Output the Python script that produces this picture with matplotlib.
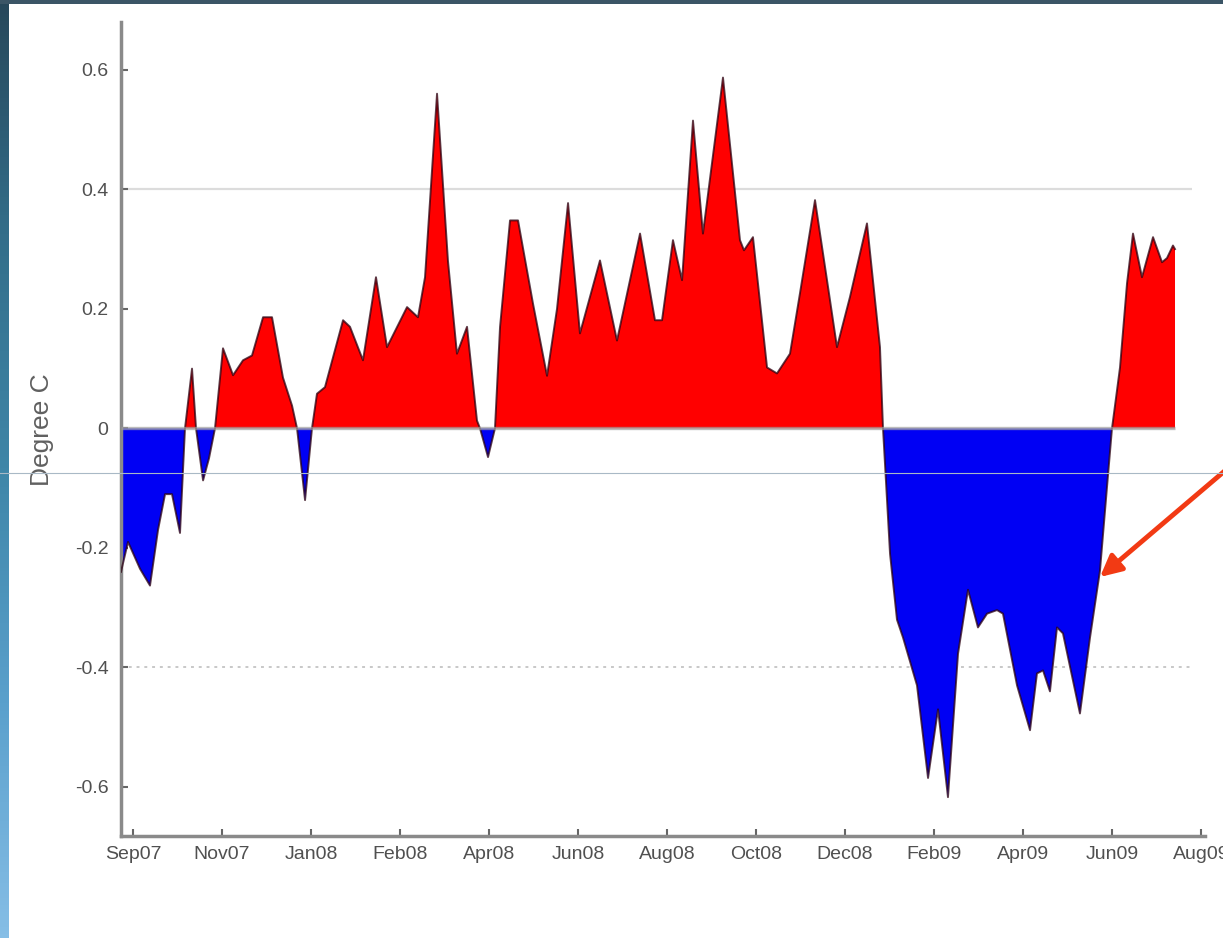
import numpy as np
import matplotlib
matplotlib.use("Agg")
import matplotlib.pyplot as plt
from matplotlib.colors import LinearSegmentedColormap

# time axis in tick units (0 = Sep07 tick, 1 tick = one label step)
t = np.array([
    -0.135, -0.056, 0.079, 0.191, 0.281, 0.36, 0.438, 0.528, 0.584, 0.663,
    0.708, 0.787, 0.854, 0.921, 1.011, 1.124, 1.236, 1.337, 1.461, 1.562,
    1.685, 1.787, 1.843, 1.933, 2.011, 2.067, 2.157, 2.36, 2.438, 2.584,
    2.730, 2.854, 3.079, 3.202, 3.281, 3.416, 3.539, 3.640, 3.753, 3.865,
    3.899, 3.989, 4.067, 4.124, 4.236, 4.326, 4.494, 4.652, 4.764, 4.888,
    5.022, 5.247, 5.438, 5.697, 5.865, 5.944, 6.067, 6.169, 6.292, 6.404,
    6.629, 6.820, 6.865, 6.966, 7.124, 7.236, 7.382, 7.494, 7.663, 7.798,
    7.910, 8.056, 8.247, 8.393, 8.427, 8.506, 8.584, 8.652, 8.809, 8.933,
    9.045, 9.157, 9.27, 9.382, 9.494, 9.596, 9.708, 9.775, 9.933, 10.079,
    10.157, 10.225, 10.303, 10.382, 10.449, 10.640, 10.753, 10.865, 10.944, 11.0,
    11.09, 11.169, 11.236, 11.337, 11.461, 11.562, 11.618, 11.685, 11.708,
])

# temperature anomaly, degree C
anom = np.array([
    -0.24, -0.19, -0.235, -0.263, -0.17, -0.11, -0.11, -0.175, 0.0, 0.10,
    0.0, -0.087, -0.05, 0.0, 0.134, 0.089, 0.114, 0.122, 0.186, 0.186,
    0.085, 0.038, 0.0, -0.12, 0.0, 0.058, 0.069, 0.181, 0.17, 0.114,
    0.253, 0.136, 0.203, 0.186, 0.253, 0.56, 0.28, 0.125, 0.17, 0.013,
    0.0, -0.048, 0.0, 0.17, 0.348, 0.348, 0.209, 0.088, 0.2, 0.377,
    0.159, 0.281, 0.147, 0.326, 0.181, 0.181, 0.315, 0.248, 0.515, 0.326,
    0.587, 0.315, 0.298, 0.32, 0.102, 0.092, 0.125, 0.226, 0.382, 0.248,
    0.136, 0.22, 0.343, 0.136, 0.0, -0.21, -0.32, -0.35, -0.43, -0.585,
    -0.47, -0.617, -0.377, -0.27, -0.333, -0.31, -0.304, -0.31, -0.43, -0.505,
    -0.41, -0.405, -0.44, -0.333, -0.343, -0.477, -0.35, -0.238, -0.098, 0.0,
    0.102, 0.243, 0.326, 0.253, 0.32, 0.278, 0.285, 0.306, 0.30,
])

tick_labels = ["Sep07", "Nov07", "Jan08", "Feb08", "Apr08", "Jun08", "Aug08",
               "Oct08", "Dec08", "Feb09", "Apr09", "Jun09", "Aug09"]
y_ticks = [-0.6, -0.4, -0.2, 0, 0.2, 0.4, 0.6]
y_tick_labels = ["-0.6", "-0.4", "-0.2", "0", "0.2", "0.4", "0.6"]

W, H = 1223, 938
fig = plt.figure(figsize=(W / 100, H / 100), dpi=100)
fig.patch.set_facecolor("white")

# slide background bits (left strip + top strip)
strip = fig.add_axes([0, 0, 9 / W, 1])
cmap = LinearSegmentedColormap.from_list(
    "slide", ["#86bee6", "#5aa0cc", "#3f86a8", "#336e8a", "#27475a"])
strip.imshow(np.linspace(0, 1, 256)[::-1].reshape(-1, 1), aspect="auto",
             cmap=cmap, origin="upper")
strip.axis("off")
top = fig.add_axes([0, 1 - 4 / H, 1, 4 / H])
top.set_facecolor("#3b5566")
top.set_xticks([])
top.set_yticks([])
for s in top.spines.values():
    s.set_visible(False)

ax = fig.add_axes([121 / W, 102 / H, 1084 / W, 814 / H])
ax.set_xlim(-0.135, 12.045)
ax.set_ylim(-0.682, 0.68)

ax.fill_between(t, anom, 0, where=anom >= 0, interpolate=True,
                color="#ff0000", linewidth=0, zorder=2)
ax.fill_between(t, anom, 0, where=anom <= 0, interpolate=True,
                color="#0000f4", linewidth=0, zorder=2)
ax.plot(t, anom, color="#2a0010", lw=1.4, alpha=0.75, zorder=3,
        solid_joinstyle="round")
# zero baseline only under the data
ax.hlines(0, t[0], t[-1], colors="#a0a0a0", lw=2.4, alpha=0.7, zorder=4)

# faint gridlines at +/-0.4
ax.hlines(0.4, -0.135, 11.9, colors="#dcdcdc", lw=1.6, zorder=1)
ax.hlines(-0.4, -0.135, 11.9, colors="#c8c8c8", lw=1.4,
          linestyles=(0, (1.5, 2.5)), zorder=1)

for side in ["top", "right"]:
    ax.spines[side].set_visible(False)
for side in ["left", "bottom"]:
    ax.spines[side].set_color("#8a8a8a")
    ax.spines[side].set_linewidth(2.5)

ax.set_xticks(range(len(tick_labels)))
ax.set_xticklabels(tick_labels)
ax.set_yticks(y_ticks)
ax.set_yticklabels(y_tick_labels)
ax.tick_params(axis="both", direction="in", length=5, width=1.5, color="#666666",
               labelcolor="#505050", labelsize=14)
ax.tick_params(axis="x", pad=7)
ax.tick_params(axis="y", pad=9)
for lab in ax.get_xticklabels() + ax.get_yticklabels():
    lab.set_family("Liberation Sans")

ax.set_ylabel("Degree C", fontsize=19, color="#606060", family="Liberation Sans")
ax.yaxis.set_label_coords(-0.062, 0.499)

# thin slide line across the picture
fig.add_artist(plt.Line2D([0, 1], [1 - 473 / H, 1 - 473 / H],
                          transform=fig.transFigure, color="#a9b9c6", lw=0.8))

# red pointer arrow
ax.annotate("", xy=(1100 / W, 1 - 577 / H), xytext=(1.01, 1 - 462 / H),
            xycoords="figure fraction", textcoords="figure fraction",
            arrowprops=dict(arrowstyle="-|>", color="#f23a14", lw=3.5,
                            mutation_scale=32, shrinkA=0, shrinkB=0),
            annotation_clip=False)

fig.savefig("out.png", dpi=100)
